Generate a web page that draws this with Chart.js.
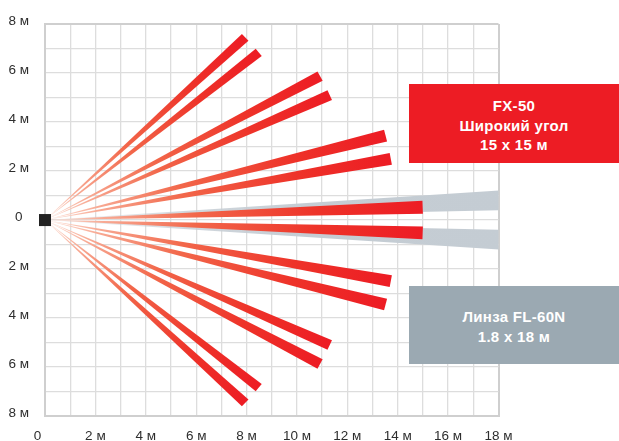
<!DOCTYPE html>
<html>
<head>
<meta charset="utf-8">
<script src="https://cdn.jsdelivr.net/npm/chart.js@4/dist/chart.umd.min.js"></script>
<style>
  html, body { margin: 0; padding: 0; background: #ffffff; }
  #wrap { position: relative; width: 619px; height: 441px; overflow: hidden; }
  #c { position: absolute; left: 0; top: 0; }
  .box { position: absolute; color: #ffffff; font-family: "Liberation Sans", Arial, Helvetica, sans-serif;
         font-weight: bold; font-size: 15px; text-align: center; box-sizing: border-box; letter-spacing: 0.3px; }
  #redBox { left: 409px; top: 84px; width: 210px; height: 79px; background: #ed1c24; padding-top: 12px; line-height: 19.5px; }
  #grayBox { left: 409px; top: 286px; width: 210px; height: 78px; background: #9ba9b2; padding-top: 21px; line-height: 20px; }
</style>
</head>
<body>
<div id="wrap">
  <canvas id="c" width="619" height="441"></canvas>
  <div class="box" id="redBox"></div>
  <div class="box" id="grayBox"></div>
</div>
<script>
// ---- data ----
// red beams (FX-50 wide angle): direction in degrees and range in metres
const redAngles = [43.2, 38.9, 28.3, 24.3, 14.3, 10.3, 2.0, -2.0, -10.3, -14.3, -24.3, -28.3, -38.9, -43.2];
const redRanges = [10.9, 10.9, 12.4, 12.4, 13.95, 13.95, 15.0, 15.0, 13.95, 13.95, 12.4, 12.4, 10.9, 10.9];
const redSpread = 2.0;      // angular width of one beam, degrees
// grey beams (FL-60N lens)
const grayAngles = [2.55, -2.55];
const grayRanges = [18.6, 18.6];
const graySpread = 2.55;
// tick labels
const xTickLabels = {0: '0    ', 2: '2 м', 4: '4 м', 6: '6 м', 8: '8 м', 10: '10 м', 12: '12 м', 14: '14 м', 16: '16 м', 18: '18 м'};
const yTickLabels = {8: '8 м', 6: '6 м', 4: '4 м', 2: '2 м', 0: '0', '-2': '2 м', '-4': '4 м', '-6': '6 м', '-8': '8 м'};
// label boxes
const redBoxLines = ['FX-50', 'Широкий угол', '15 x 15 м'];
const grayBoxLines = ['Линза FL-60N', '1.8 x 18 м'];

document.getElementById('redBox').innerHTML = redBoxLines.map(s => '<div>' + s + '</div>').join('');
document.getElementById('grayBox').innerHTML = grayBoxLines.map(s => '<div>' + s + '</div>').join('');

function wedge(angleDeg, range, spreadDeg) {
  const a = angleDeg * Math.PI / 180;
  const h = range * Math.tan(spreadDeg * Math.PI / 360);
  const cx = range * Math.cos(a), cy = range * Math.sin(a);
  const px = -Math.sin(a), py = Math.cos(a);
  return {
    pts: [{x: 0, y: 0}, {x: cx + px * h, y: cy + py * h}, {x: cx - px * h, y: cy - py * h}, {x: 0, y: 0}],
    tip: {x: cx, y: cy}
  };
}

function beamFill(stops) {
  return (ctx) => {
    const chart = ctx.chart;
    const ds = chart.data.datasets[ctx.datasetIndex];
    const xs = chart.scales.x, ys = chart.scales.y;
    const fallback = stops[stops.length - 1][1];
    if (!xs || !ys || !ds || !ds.tip) return fallback;
    const x0 = xs.getPixelForValue(0), y0 = ys.getPixelForValue(0);
    const x1 = xs.getPixelForValue(ds.tip.x), y1 = ys.getPixelForValue(ds.tip.y);
    if (![x0, y0, x1, y1].every(isFinite)) return fallback;
    const g = chart.ctx.createLinearGradient(x0, y0, x1, y1);
    stops.forEach(([o, c]) => g.addColorStop(o, c));
    return g;
  };
}

const redStops = [[0, '#fde6de'], [0.15, '#f8ab95'], [0.4, '#f2674a'], [0.72, '#ee3329'], [1, '#ed1c24']];
const grayStops = [[0, 'rgba(197,205,212,0.15)'], [0.3, 'rgba(197,205,212,0.8)'], [0.55, '#c5cdd4'], [1, '#c4ccd3']];

const datasets = [];
datasets.push({
  label: 'sensor', data: [{x: 0, y: 0}], showLine: false, pointStyle: 'rect',
  pointRadius: 8.5, pointBackgroundColor: '#222222', pointBorderWidth: 0, clip: false, order: 0
});
redAngles.forEach((ang, i) => {
  const w = wedge(ang, redRanges[i], redSpread);
  datasets.push({
    label: 'FX-50 ' + i, data: w.pts, tip: w.tip, showLine: true, fill: 'shape',
    borderWidth: 0, pointRadius: 0, backgroundColor: beamFill(redStops), order: 1
  });
});
grayAngles.forEach((ang, i) => {
  const w = wedge(ang, grayRanges[i], graySpread);
  datasets.push({
    label: 'FL-60N ' + i, data: w.pts, tip: w.tip, showLine: true, fill: 'shape',
    borderWidth: 0, pointRadius: 0, backgroundColor: beamFill(grayStops), order: 2
  });
});

const tickFont = {family: '"Liberation Sans", Arial, Helvetica, sans-serif', size: 13.5};

function gridWidth(ctx, edges) {
  return (ctx.tick && edges.includes(ctx.tick.value)) ? 2 : 1.3;
}
function gridColor(ctx, edges) {
  return (ctx.tick && edges.includes(ctx.tick.value)) ? '#cfcfcf' : '#dddddd';
}

new Chart(document.getElementById('c'), {
  type: 'scatter',
  data: {datasets},
  options: {
    responsive: false,
    animation: false,
    events: [],
    layout: {padding: {top: 19.5, right: 120.5, bottom: 0, left: 0}},
    plugins: {legend: {display: false}, tooltip: {enabled: false}},
    scales: {
      x: {
        type: 'linear', min: 0, max: 18,
        afterFit: (s) => { s.height = 25; },
        border: {display: true, color: '#cfcfcf', width: 2},
        grid: {drawTicks: false, lineWidth: (c) => gridWidth(c, [0, 18]), color: (c) => gridColor(c, [0, 18])},
        ticks: {
          stepSize: 1, autoSkip: false, maxRotation: 0, padding: 12.5, color: '#2e2e2e', font: tickFont,
          callback: (v) => (xTickLabels[v] !== undefined ? xTickLabels[v] : '')
        }
      },
      y: {
        type: 'linear', min: -8, max: 8,
        afterFit: (s) => { s.width = 45; },
        border: {display: true, color: '#cfcfcf', width: 2},
        grid: {drawTicks: false, lineWidth: (c) => gridWidth(c, [-8, 8]), color: (c) => gridColor(c, [-8, 8])},
        ticks: {
          stepSize: 1, autoSkip: false, padding: 16, crossAlign: 'center', labelOffset: -2.5, color: '#2e2e2e', font: tickFont,
          callback: (v) => (yTickLabels[v] !== undefined ? yTickLabels[v] : '')
        }
      }
    }
  }
});
</script>
</body>
</html>
